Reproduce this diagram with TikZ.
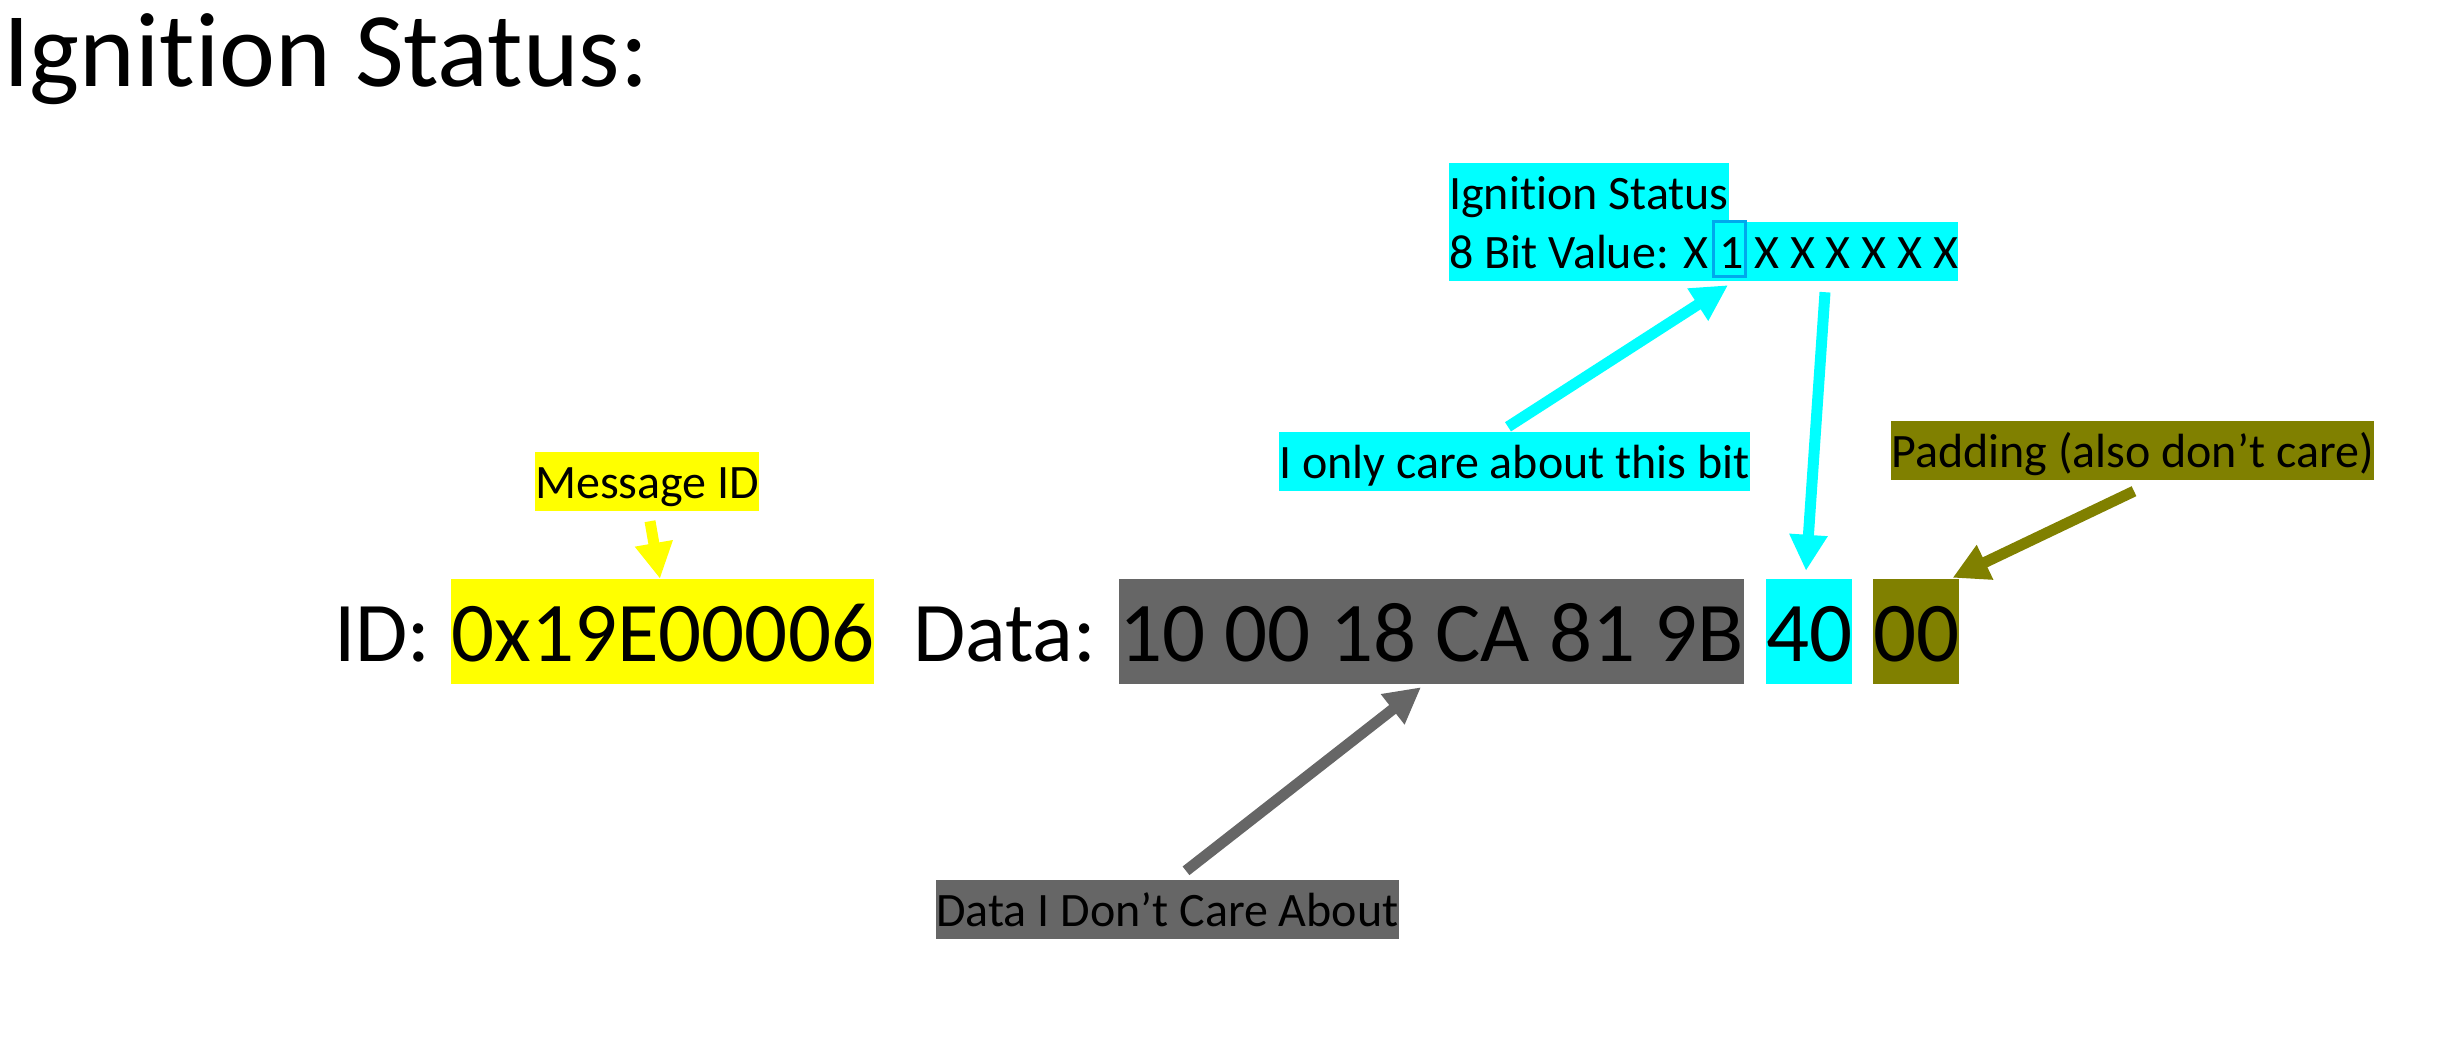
\documentclass[tikz,border=0pt]{standalone}
\usepackage{fontspec}
\setmainfont{Carlito}[Ligatures={NoCommon}]
\usetikzlibrary{arrows.meta}
\definecolor{hlyellow}{HTML}{FFFF00}
\definecolor{hlcyan}{HTML}{00FFFF}
\definecolor{hlgray}{HTML}{666666}
\definecolor{hlolive}{HTML}{808000}
\definecolor{bitblue}{HTML}{00A8EC}
\tikzset{
  big/.style={font=\fontsize{85pt}{100pt}\selectfont, inner sep=0pt, anchor=base west, text height=82pt, text depth=23pt},
  small/.style={font=\fontsize{48pt}{58pt}\selectfont, inner sep=0pt, anchor=base west, text height=46pt, text depth=13pt},
  titlefont/.style={font=\fontsize{106pt}{120pt}\selectfont, inner sep=0pt, anchor=base west},
  arr/.style={line width=11pt, -{Triangle[width=36pt,length=36pt]}},
}
\begin{document}
\begin{tikzpicture}[x=1pt,y=-1pt]
\useasboundingbox (0,0) rectangle (2439,1041);
% title
\node[titlefont] (title) at (3,87) {Ignition Status:};
% main row
\node[big] (idlbl) at (334,661) {ID:};
\node[big, fill=hlyellow] (idval) at (451,661) {0x19E00006};
\node[big] (datalbl) at (913,661) {Data:};
\node[big, fill=hlgray] (data) at (1119,661) {10 00 18 CA 81 9B};
\node[big, fill=hlcyan] (ign) at (1766,661) {40};
\node[big, fill=hlolive] (pad) at (1873,661) {00};
% labels
\node[small, fill=hlyellow] (msg) at (535,498) {Message ID};
\node[small, fill=hlcyan] (ig1) at (1449,209) {Ignition Status};
\node[small, fill=hlcyan] (ig2) at (1449,268) {8 Bit Value: X 1 X X X X X X};
\node[draw=bitblue, line width=3pt, minimum width=32pt, minimum height=55pt, inner sep=0pt] (bit) at (1729.5,249) {};
\node[small, fill=hlcyan] (care) at (1279,478) {I only care about this bit};
\node[small, fill=hlolive] (padlbl) at (1891,467) {Padding (also don’t care)};
\node[small, fill=hlgray] (dont) at (936,926) {Data I Don’t Care About};
% arrows
\draw[arr, hlyellow] ([xshift=115pt,yshift=-10pt]msg.south west) -- ([xshift=209pt]idval.north west);
\draw[arr, hlgray] ([xshift=250pt,yshift=9pt]dont.north west) -- ([xshift=302pt,yshift=-3pt]data.south west);
\draw[arr, hlcyan] ([xshift=229pt,yshift=5pt]care.north west) -- ([xshift=279pt,yshift=-4pt]ig2.south west);
\draw[arr, hlcyan] ([xshift=376pt,yshift=-11pt]ig2.south west) -- ([xshift=40pt,yshift=8pt]ign.north west);
\draw[arr, hlolive] ([xshift=243pt,yshift=-11pt]padlbl.south west) -- ([xshift=-7pt,yshift=1pt]pad.north east);
\end{tikzpicture}
\end{document}
